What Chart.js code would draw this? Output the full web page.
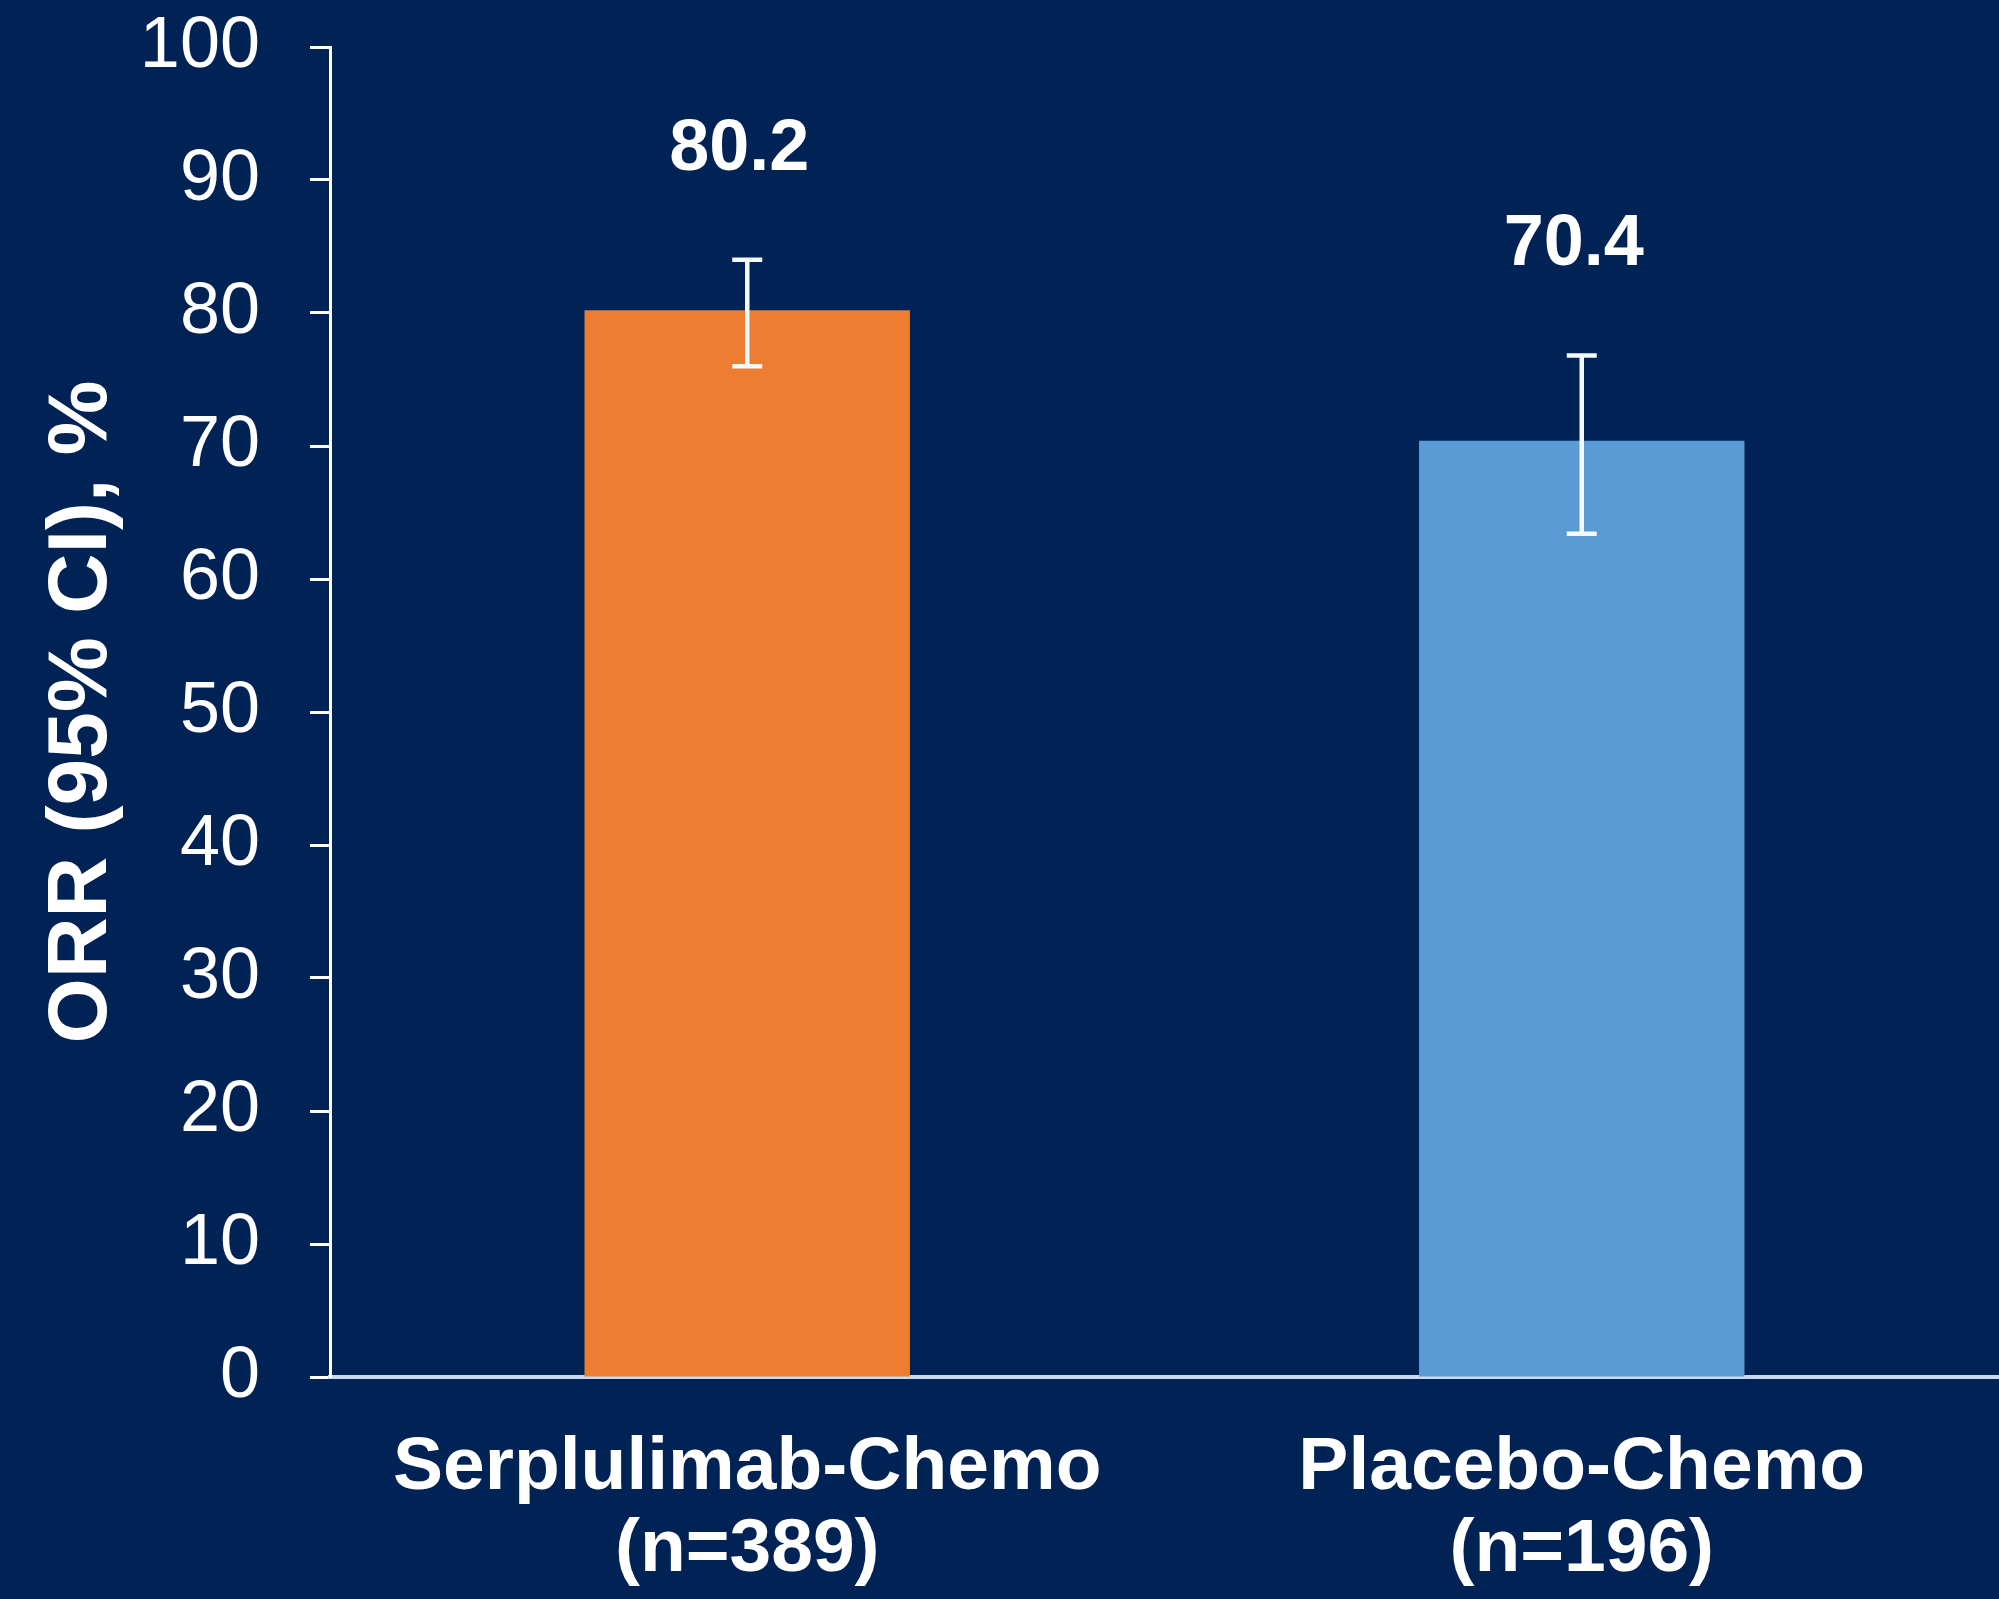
<!DOCTYPE html>
<html>
<head>
<meta charset="utf-8">
<script src="https://cdn.jsdelivr.net/npm/chart.js@4.4.0/dist/chart.umd.min.js"></script>
<style>
  html, body { margin: 0; padding: 0; background: #012255; }
  #wrap { width: 1999px; height: 1599px; }
</style>
</head>
<body>
<div id="wrap"><canvas id="orrChart" width="1999" height="1599"></canvas></div>
<script>
var categories = [["Serplulimab-Chemo", "(n=389)"], ["Placebo-Chemo", "(n=196)"]];
var orrValues = [80.2, 70.4];
var ciLower = [76.0, 63.4];
var ciUpper = [84.0, 76.8];
var barColors = ['#ED7D31', '#5B9BD5'];
var yTicks = [0, 10, 20, 30, 40, 50, 60, 70, 80, 90, 100];

// error bars + value labels drawn on top of the bars
var errorBarPlugin = {
    id: 'errorBars',
    afterDatasetsDraw: function(chart){
        var ctx = chart.ctx;
        var yScale = chart.scales.y;
        var meta = chart.getDatasetMeta(0);
        ctx.save();
        for (var i = 0; i < meta.data.length; i++) {
            var x = meta.data[i].x;
            var yTop = yScale.getPixelForValue(ciUpper[i]);
            var yBot = yScale.getPixelForValue(ciLower[i]);
            ctx.strokeStyle = '#f4f9ff';
            ctx.lineWidth = 4.5;
            ctx.beginPath();
            ctx.moveTo(x, yTop); ctx.lineTo(x, yBot);
            ctx.moveTo(x - 15, yTop); ctx.lineTo(x + 15, yTop);
            ctx.moveTo(x - 15, yBot); ctx.lineTo(x + 15, yBot);
            ctx.stroke();

            ctx.fillStyle = '#ffffff';
            ctx.font = 'bold 72px "Liberation Sans", Arial, sans-serif';
            ctx.textAlign = 'center';
            ctx.textBaseline = 'middle';
            ctx.fillText(orrValues[i].toFixed(1), x - 8, yTop - 110);
        }
        ctx.restore();
    }
};

var ctx = document.getElementById('orrChart');
var orrChart = new Chart(ctx, {
    type: 'bar',
    data: {
        labels: categories,
        datasets: [{
            data: orrValues,
            backgroundColor: barColors,
            borderWidth: 0,
            barPercentage: 0.39,
            categoryPercentage: 1.0
        }]
    },
    options: {
        responsive: false,
        animation: false,
        devicePixelRatio: 1,
        layout: { padding: { top: 47, right: 0, left: 0, bottom: 0 } },
        plugins: {
            legend: { display: false },
            tooltip: { enabled: false }
        },
        scales: {
            x: {
                grid: { display: false, drawTicks: false },
                border: { display: true, color: '#c9d9ef', width: 4 },
                ticks: {
                    color: '#ffffff',
                    padding: 50,
                    font: { family: '"Liberation Sans", Arial, sans-serif', size: 75, weight: 'bold', lineHeight: 1.1 }
                },
                afterFit: function(scale){ scale.height = 222; }
            },
            y: {
                min: 0,
                max: 100,
                afterBuildTicks: function(scale){
                    scale.ticks = yTicks.map(function(v){ return { value: v }; });
                },
                grid: {
                    display: true,
                    drawOnChartArea: false,
                    drawTicks: true,
                    tickLength: 20,
                    tickWidth: 3,
                    tickColor: '#ffffff'
                },
                border: { display: true, color: '#ffffff', width: 3 },
                ticks: {
                    color: '#ffffff',
                    padding: 50,
                    font: { family: '"Liberation Sans", Arial, sans-serif', size: 72, lineHeight: 1.2 }
                },
                title: {
                    display: true,
                    text: 'ORR (95% CI), %',
                    color: '#ffffff',
                    padding: { top: 32, bottom: 0 },
                    font: { family: '"Liberation Sans", Arial, sans-serif', size: 84, weight: 'bold', lineHeight: 1.2 }
                },
                afterFit: function(scale){
                    scale.width = 330;
                    scale.paddingTop = 0;
                    scale.paddingBottom = 0;
                }
            }
        }
    },
    plugins: [errorBarPlugin]
});
</script>
</body>
</html>
